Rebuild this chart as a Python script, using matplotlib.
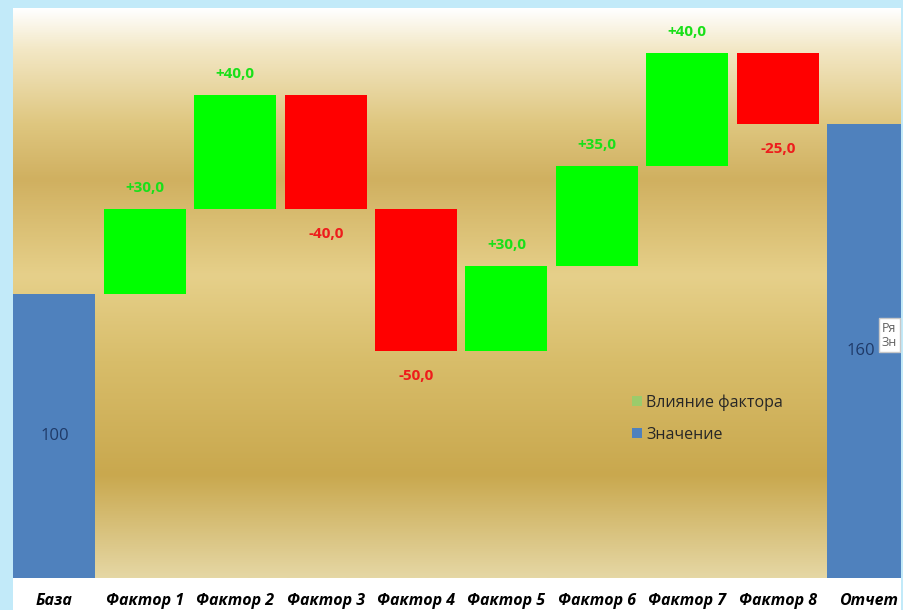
import numpy as np
import matplotlib
matplotlib.use('Agg')
import matplotlib.pyplot as plt
from matplotlib.colors import LinearSegmentedColormap
from matplotlib.patches import Patch, Rectangle

# data
categories = ['База', 'Фактор 1', 'Фактор 2', 'Фактор 3', 'Фактор 4',
              'Фактор 5', 'Фактор 6', 'Фактор 7', 'Фактор 8', 'Отчет']
base_value = 100
factor_changes = [30, 40, -40, -50, 30, 35, 40, -25]
report_value = 160
legend_labels = ['Влияние фактора', 'Значение']

plt.rcParams['font.family'] = ['Open Sans', 'DejaVu Sans']

fig = plt.figure(figsize=(9.04, 6.10), dpi=100)
fig.patch.set_facecolor('#c2eaf9')
# white panel behind the chart
fig.patches.append(Rectangle((13/904, 0), 888/904, 602/610, transform=fig.transFigure,
                             fc='white', ec='none', zorder=0))

ax = fig.add_axes([13/904, 32/610, 888/904, 570/610])
ax.set_zorder(1)

# background gradient (top -> bottom)
stops = [(0.00, '#ffffff'), (0.07, '#f3e8c6'), (0.20, '#dfc780'),
         (0.30, '#d0b060'), (0.47, '#e6d08a'), (0.62, '#d8bd6a'),
         (0.82, '#c9a84e'), (1.00, '#e5d7a4')]
cmap = LinearSegmentedColormap.from_list('bg', stops)
grad = np.linspace(0, 1, 256).reshape(-1, 1)
ax.imshow(grad, cmap=cmap, aspect='auto', extent=[0, 1, 0, 1],
          transform=ax.transAxes, zorder=0)

x = np.arange(len(categories))
width = 0.907
blue = '#4f81bd'

# base and report bars
ax.bar(x[0], base_value, width, color=blue, zorder=2)
ax.bar(x[-1], report_value, width, color=blue, zorder=2)

# factor bars
level = base_value
for i, d in enumerate(factor_changes):
    xi = x[i + 1]
    if d >= 0:
        ax.bar(xi, d, width, bottom=level, color='#00ff00', zorder=2)
        ax.annotate(f'{d:+.1f}'.replace('.', ','), (xi, level + d),
                    xytext=(0, 15), textcoords='offset points', ha='center',
                    va='center', color='#19e019', fontsize=11, fontweight='bold')
    else:
        ax.bar(xi, -d, width, bottom=level + d, color='#ff0000', zorder=2)
        ax.annotate(f'{d:+.1f}'.replace('.', ','), (xi, level + d),
                    xytext=(0, -18), textcoords='offset points', ha='center',
                    va='center', color='#ee1c1c', fontsize=11, fontweight='bold')
    level += d

ax.text(x[0], base_value / 2, f'{base_value}', ha='center', va='center',
        color='#1f3a68', fontsize=12, zorder=3)
ax.text(x[-1] - 0.08, report_value / 2, f'{report_value}', ha='center', va='center',
        color='#1f3a68', fontsize=12, zorder=3)

ax.set_xlim(-0.459, 9.364)
ax.set_ylim(0, 200.7)
ax.set_xticks(x)
ax.set_xticklabels(categories, fontsize=11.5, fontweight='bold', style='italic')
ax.tick_params(axis='x', length=0, pad=11)
ax.set_yticks([])
for s in ax.spines.values():
    s.set_visible(False)

handles = [Patch(fc='#9bcb6b', ec='none'), Patch(fc=blue, ec='none')]
ax.legend(handles, legend_labels, loc='upper left', bbox_to_anchor=(0.697, 0.322),
          frameon=False, fontsize=11.5, handlelength=0.6, handleheight=0.6,
          handletextpad=0.3, labelspacing=1.0, borderpad=0, borderaxespad=0,
          labelcolor='#262626')

# tooltip fragment at the right edge
fig.text(882/904, 1 - 335/610, 'Ря\nЗн', fontsize=9, color='#606060', va='center',
         ha='left', linespacing=1.1, zorder=5,
         bbox=dict(fc='white', ec='#c8c8c8', boxstyle='square,pad=0.25'))

fig.savefig('out.png', dpi=100, facecolor=fig.get_facecolor())
